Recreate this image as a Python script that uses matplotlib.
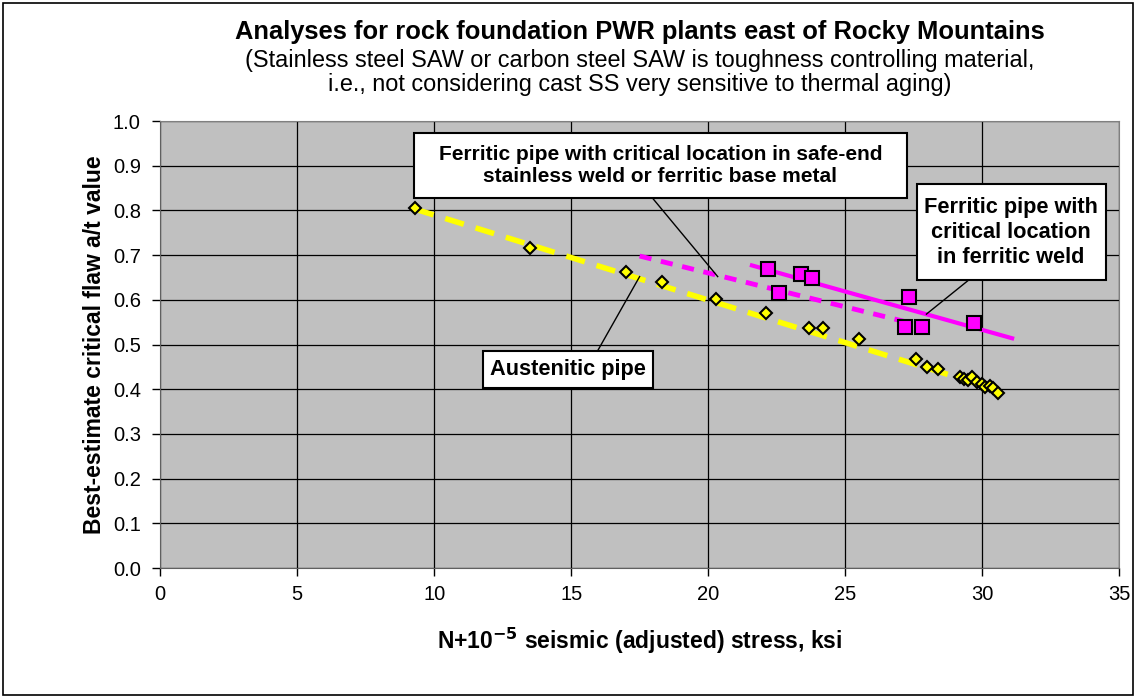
import matplotlib
matplotlib.use("Agg")
import matplotlib.pyplot as plt
from matplotlib.patches import Rectangle

plt.rcParams['font.family'] = ['Liberation Sans', 'DejaVu Sans']

# austenitic pipe analyses (yellow diamonds)
aust_x = [9.3, 13.5, 17.0, 18.3, 20.3, 22.1, 23.7, 24.2, 25.5, 27.6, 28.0, 28.4,
          29.2, 29.35, 29.5, 29.65, 29.8, 30.0, 30.1, 30.3, 30.4, 30.6]
aust_y = [0.805, 0.717, 0.663, 0.639, 0.602, 0.571, 0.536, 0.536, 0.512, 0.468, 0.450, 0.445,
          0.427, 0.422, 0.421, 0.427, 0.417, 0.412, 0.406, 0.407, 0.402, 0.391]

# ferritic pipe, critical location in ferritic weld (magenta squares)
weld_x = [22.2, 22.6, 23.4, 23.8, 27.2, 27.35, 27.8, 29.7]
weld_y = [0.669, 0.616, 0.657, 0.648, 0.540, 0.607, 0.540, 0.549]

# trend lines
aust_fit_x = [9.3, 30.6]
aust_fit_y = [0.803, 0.398]
safe_end_fit_x = [17.5, 27.8]
safe_end_fit_y = [0.698, 0.542]
weld_fit_x = [21.6, 31.1]
weld_fit_y = [0.677, 0.514]

fig = plt.figure(figsize=(11.36, 6.98), dpi=100)
ax = fig.add_axes([0.1411, 0.1862, 0.8439, 0.6404])
ax.set_facecolor("#C0C0C0")

ax.plot(aust_fit_x, aust_fit_y, color="#FFFF00", lw=4, dashes=(3.5, 2.2), zorder=3)
ax.plot(safe_end_fit_x, safe_end_fit_y, color="#FF00FF", lw=3.5, dashes=(2.5, 2), zorder=3)
ax.plot(weld_fit_x, weld_fit_y, color="#FF00FF", lw=3, zorder=3)

ax.plot(aust_x, aust_y, "D", ms=6.5, mfc="#FFFF00", mec="black", mew=1.5, ls="none", zorder=4)
ax.plot(weld_x, weld_y, "s", ms=9.5, mfc="#FF00FF", mec="black", mew=1.5, ls="none", zorder=4)

ax.set_xlim(0, 35)
ax.set_ylim(0, 1.0)
ax.set_xticks(range(0, 36, 5))
ax.set_yticks([i / 10 for i in range(11)])
ax.set_yticklabels([f"{i / 10:.1f}" for i in range(11)])
ax.grid(True, color="black", lw=0.9)
ax.set_axisbelow(True)
ax.tick_params(labelsize=14.5, length=6, width=1, color="black", direction="out")
ax.tick_params(axis="y", pad=8)
ax.tick_params(axis="x", pad=6)
for s in ["top", "right"]:
    ax.spines[s].set_color("#808080")
for s in ["left", "bottom"]:
    ax.spines[s].set_color("#606060")

ax.set_ylabel("Best-estimate critical flaw a/t value", fontsize=16.5, fontweight="bold")
ax.yaxis.set_label_coords(-54 / 959, 0.5)
ax.set_xlabel(r"N+10$^{\mathbf{-5}}$ seismic (adjusted) stress, ksi", fontsize=16.5,
              fontweight="bold")
ax.xaxis.set_label_coords(0.5, -58 / 447)

cx = 640 / 1136
fig.text(cx, 1 - 32 / 698, "Analyses for rock foundation PWR plants east of Rocky Mountains",
         ha="center", va="center", fontsize=18.4, fontweight="bold")
fig.text(cx, 1 - 60 / 698, "(Stainless steel SAW or carbon steel SAW is toughness controlling material,",
         ha="center", va="center", fontsize=16.9)
fig.text(cx, 1 - 85 / 698, "i.e., not considering cast SS very sensitive to thermal aging)",
         ha="center", va="center", fontsize=16.9)


def callout(text, x0, x1, y0, y1, start, end, size):
    # white text box with a thin leader line to the curve
    ax.add_patch(Rectangle((x0, y0), x1 - x0, y1 - y0, fc="white", ec="black", lw=1.5, zorder=6))
    ax.text((x0 + x1) / 2, (y0 + y1) / 2, text, ha="center", va="center", fontsize=size,
            fontweight="bold", linespacing=1.25, zorder=7)
    ax.plot([start[0], end[0]], [start[1], end[1]], color="black", lw=1, zorder=5)


callout("Ferritic pipe with critical location in safe-end\nstainless weld or ferritic base metal",
        9.26, 27.25, 0.828, 0.973, (17.87, 0.835), (20.35, 0.652), 15)
callout("Ferritic pipe with\ncritical location\nin ferritic weld",
        27.62, 34.51, 0.644, 0.859, (29.67, 0.652), (27.97, 0.568), 15.7)
callout("Austenitic pipe",
        11.78, 17.98, 0.403, 0.485, (15.93, 0.482), (17.5, 0.652), 15.7)

# chart area border
fig.add_artist(Rectangle((0.003, 0.004), 0.994, 0.992, transform=fig.transFigure,
                         fill=False, ec="black", lw=1.2))

fig.savefig("out.png", dpi=100)
